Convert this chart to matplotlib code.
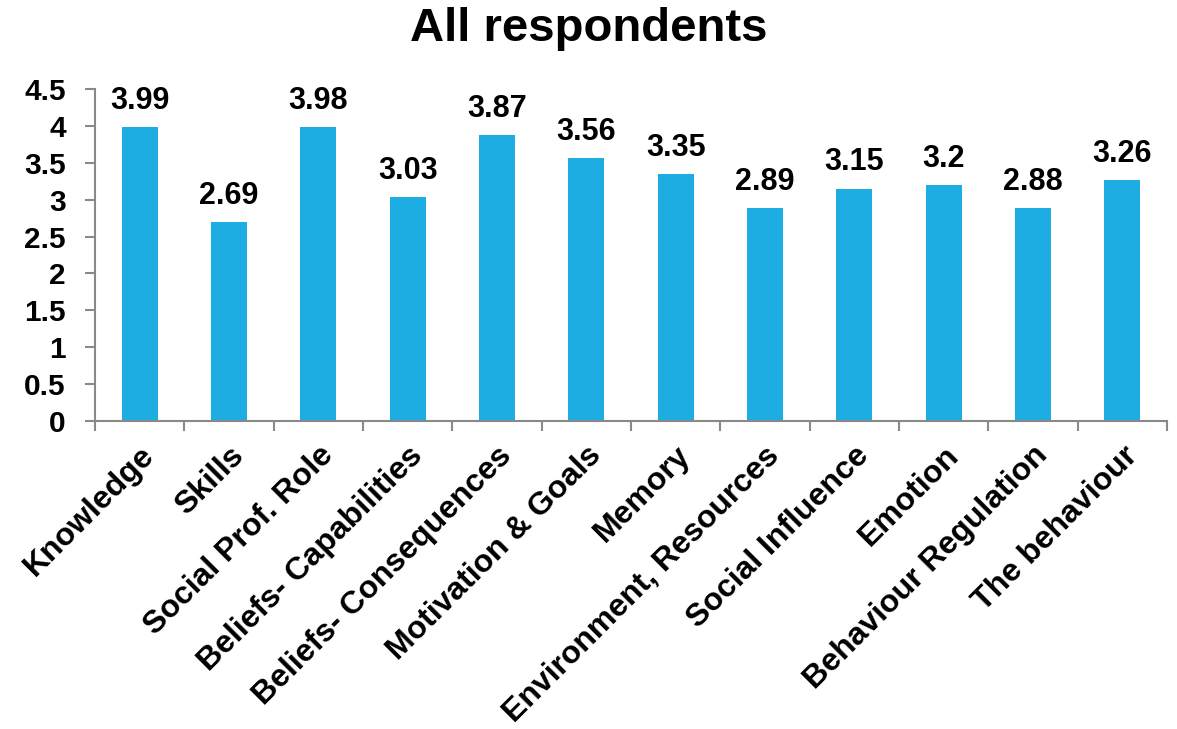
import matplotlib.pyplot as plt

categories = ["Knowledge", "Skills", "Social Prof. Role", "Beliefs- Capabilities",
              "Beliefs- Consequences", "Motivation & Goals", "Memory",
              "Environment, Resources", "Social Influence", "Emotion",
              "Behaviour Regulation", "The behaviour"]
values = [3.99, 2.69, 3.98, 3.03, 3.87, 3.56, 3.35, 2.89, 3.15, 3.2, 2.88, 3.26]
labels = ["3.99", "2.69", "3.98", "3.03", "3.87", "3.56", "3.35", "2.89", "3.15", "3.2", "2.88", "3.26"]
yticks = [0, 0.5, 1, 1.5, 2, 2.5, 3, 3.5, 4, 4.5]
ytick_labels = ["0", "0.5", "1", "1.5", "2", "2.5", "3", "3.5", "4", "4.5"]

plt.rcParams["font.family"] = ["Liberation Sans", "DejaVu Sans"]
plt.rcParams["font.weight"] = "bold"

fig = plt.figure(figsize=(11.77, 7.29), dpi=100)
ax = fig.add_axes([0.0807, 0.4225, 0.9108, 0.4555])

x = range(len(categories))
ax.bar(x, values, width=0.4, color="#1EADE3")
for i, (v, lab) in enumerate(zip(values, labels)):
    ax.text(i, v + 0.15, lab, ha="center", va="bottom", fontsize=22, fontweight="bold")

ax.set_xlim(-0.5, len(categories) - 0.5)
ax.set_ylim(0, 4.5)
ax.set_yticks(yticks)
ax.set_yticklabels(ytick_labels, fontsize=21.5, fontweight="bold")
ax.set_xticks([i - 0.5 for i in range(len(categories) + 1)], minor=False)
ax.set_xticklabels([])
ax.set_xticks(list(x), minor=True)
ax.set_xticklabels(categories, minor=True, rotation=45, ha="right",
                   rotation_mode="anchor", fontsize=23, fontweight="bold")
ax.tick_params(axis="x", which="minor", length=0, pad=14)
ax.tick_params(axis="x", which="major", length=7, color="#898989", width=1.5)
ax.tick_params(axis="y", length=7, color="#898989", width=1.5, pad=14)

for s in ["top", "right"]:
    ax.spines[s].set_visible(False)
for s in ["left", "bottom"]:
    ax.spines[s].set_color("#898989")
    ax.spines[s].set_linewidth(1.5)

fig.suptitle("All respondents", fontsize=34, fontweight="bold", y=0.99)

fig.savefig("out.png", dpi=100)
